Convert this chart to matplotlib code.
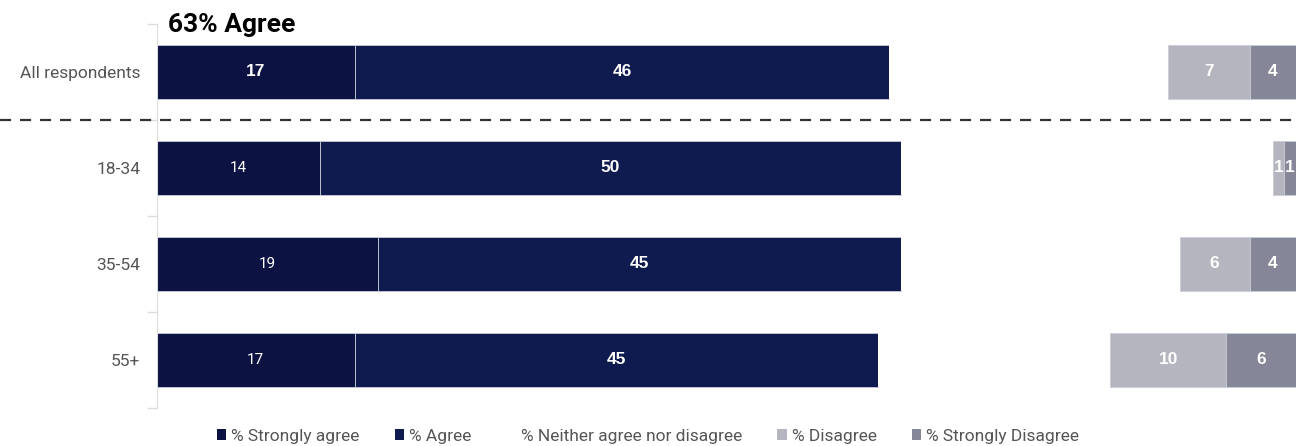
import matplotlib.pyplot as plt
from matplotlib.patches import Patch
import numpy as np

groups = ['All respondents', '18-34', '35-54', '55+']
strongly_agree = [17, 14, 19, 17]
agree = [46, 50, 45, 45]
neither = [24, 32, 24, 20]
disagree = [7, 1, 6, 10]
strongly_disagree = [4, 1, 4, 6]

series = ['% Strongly agree', '% Agree', '% Neither agree nor disagree',
          '% Disagree', '% Strongly Disagree']
colors = ['#0c1241', '#0f1a4e', '#ffffff', '#b4b5be', '#858698']
values = [strongly_agree, agree, neither, disagree, strongly_disagree]
show_label = [True, True, False, True, True]

fig = plt.figure(figsize=(12.96, 4.46), dpi=100)
ax = fig.add_axes([157 / 1296, 38 / 446, 1139 / 1296, 384 / 446])

y = np.arange(len(groups))
left = np.zeros(len(groups))
for s, (name, vals, col) in enumerate(zip(series, values, colors)):
    vals = np.array(vals, dtype=float)
    ec = 'none' if col == '#ffffff' else '#c9cbd6'
    ax.barh(y, vals, left=left, height=0.57, color=col, edgecolor=ec, linewidth=0.6)
    if show_label[s]:
        for i, v in enumerate(vals):
            cx = left[i] + v / 2
            if s == 0 and i > 0:
                # age rows: strongly agree printed in a light face
                ax.text(cx, y[i], f'{int(v)}', ha='center', va='center', color='white',
                        fontsize=11, family='Roboto')
            else:
                ax.text(cx, y[i], f'{int(v)}', ha='center', va='center', color='white',
                        fontsize=12.5, family='Liberation Sans', fontweight='bold')
    left += vals

ax.set_xlim(0, 98)
ax.set_ylim(3.5, -0.5)
ax.set_xticks([])
ax.set_yticks(y)
ax.set_yticklabels(groups, family='Roboto', fontsize=12.5, color='#555555')
ax.tick_params(axis='y', which='major', length=0, pad=12)
ax.set_yticks(np.arange(-0.5, 4, 1), minor=True)
ax.tick_params(axis='y', which='minor', length=7, color='#dddddd', width=1)
for side in ['top', 'right', 'bottom']:
    ax.spines[side].set_visible(False)
ax.spines['left'].set_color('#dddddd')

# dashed separator under the overall row
ax.axhline(0.5, xmin=-157 / 1139, xmax=1, color='#333333', linestyle=(0, (5, 4)),
           linewidth=1.6, clip_on=False)

fig.text(168 / 1296, 1 - 32 / 446, '63% Agree', fontsize=19, fontweight='bold',
         family='Roboto', color='black', va='baseline')

handles = [Patch(facecolor=c, edgecolor='none') for c in colors]
fig.legend(handles, series, loc='center', bbox_to_anchor=(0.5, 1 - 436 / 446), ncol=5,
           frameon=False, handlelength=0.55, handleheight=0.55, handletextpad=0.3,
           columnspacing=2.0, prop={'family': 'Roboto', 'size': 12.5}, labelcolor='#555555')

fig.savefig('out.png', dpi=100)
